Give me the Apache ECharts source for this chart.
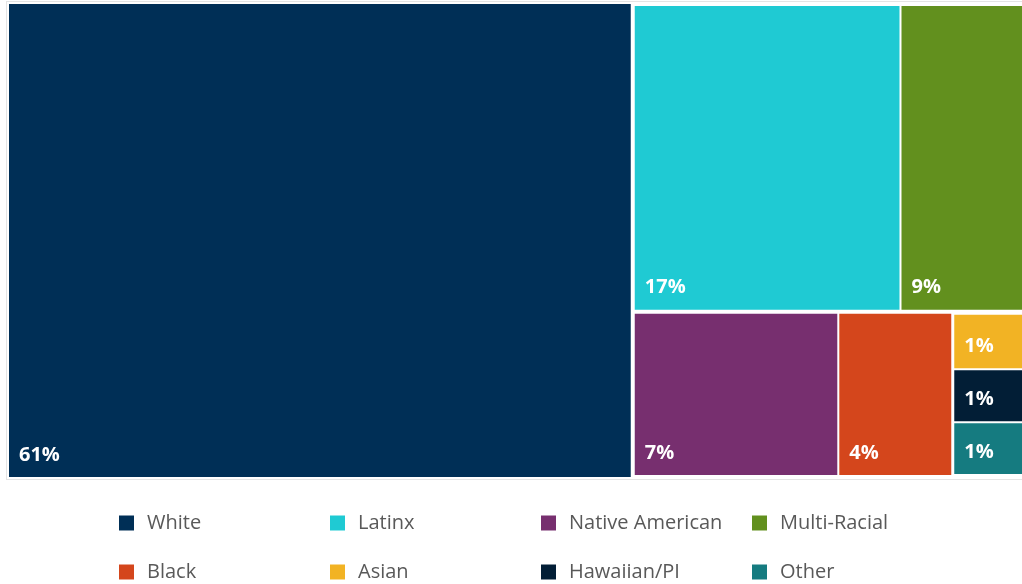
<!DOCTYPE html>
<html><head><meta charset="utf-8">
<script src="https://cdn.jsdelivr.net/npm/echarts@6/dist/echarts.min.js"></script>
<style>html,body{margin:0;padding:0;background:#fff}#c{width:1022px;height:584px}</style>
</head><body><div id="c"></div>
<script>
const categories = ['White', 'Latinx', 'Native American', 'Multi-Racial', 'Black', 'Asian', 'Hawaiian/PI', 'Other'];
const values = [60.5, 17.0, 7.0, 8.7, 3.9, 1.0, 0.95, 0.95];
const colors = ['#002F56', '#1FCAD3', '#772F6F', '#62901E', '#D4461C', '#F2B324', '#021E36', '#157B80'];
// grouping used by the reference layout
const groupTop = ['Latinx', 'Multi-Racial'];
const groupBottom = ['Native American', 'Black'];
const groupSmall = ['Asian', 'Hawaiian/PI', 'Other'];
const legendColumns = [['White', 'Black'], ['Latinx', 'Asian'], ['Native American', 'Hawaiian/PI'], ['Multi-Racial', 'Other']];
const legendLefts = [119, 330, 541, 752];

const leaf = n => {
  const i = categories.indexOf(n);
  return { name: n, value: values[i], itemStyle: { color: colors[i] } };
};
const treeData = [{
  name: 'all',
  children: [
    leaf('White'),
    { name: 'rest', children: [
      { name: 'top', children: groupTop.map(leaf) },
      { name: 'bottom', children: groupBottom.map(leaf).concat([{ name: 'small', children: groupSmall.map(leaf) }]) }
    ] }
  ]
}];

const chart = echarts.init(document.getElementById('c'), null, { renderer: 'canvas' });
const FONT = 'Open Sans';
chart.setOption({
  animation: false,
  series: [
    {
      type: 'treemap',
      left: 6, top: 1, width: 1035, height: 479,
      roam: false, nodeClick: false,
      squareRatio: 1,
      sort: false,
      breadcrumb: { show: false },
      itemStyle: { borderWidth: 1, borderColor: '#ffffff', gapWidth: 0 },
      upperLabel: { show: false },
      label: {
        show: true, position: 'insideBottomLeft', distance: 5, offset: [0, -2],
        color: '#ffffff', fontFamily: FONT, fontWeight: 'bold', fontSize: 20,
        formatter: p => Math.round(p.value) + '%'
      },
      emphasis: { disabled: true },
      levels: [
        { itemStyle: { borderWidth: 1, borderColor: '#e4e4e4', gapWidth: 0 } }
      ],
      data: treeData
    },
    {
      type: 'pie', radius: 0, center: [-100, -100], silent: true,
      label: { show: false }, labelLine: { show: false },
      data: categories.map((n, i) => ({ name: n, value: values[i], itemStyle: { color: colors[i] } }))
    }
  ],
  legend: legendColumns.map((col, k) => ({
    orient: 'vertical', left: legendLefts[k], top: 513, padding: 0,
    itemWidth: 15, itemHeight: 15, itemGap: 29, icon: 'rect',
    selectedMode: false,
    data: col,
    textStyle: { color: '#595959', fontFamily: FONT, fontSize: 20, lineHeight: 20, padding: [0, 0, 0, 8] }
  }))
});
</script></body></html>
